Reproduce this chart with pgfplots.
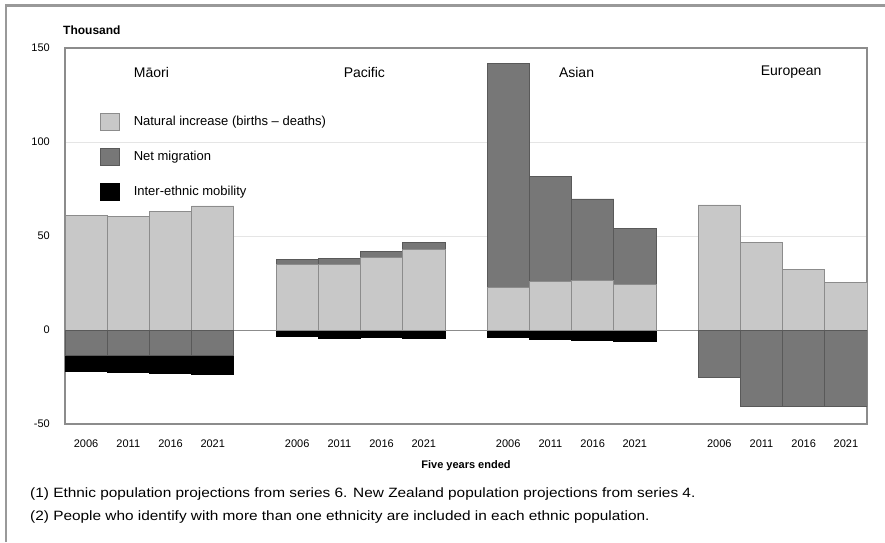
\documentclass[border=0pt]{standalone}
\usepackage{fontspec}
\setmainfont{Liberation Sans}
\usepackage{graphicx}
\usepackage{pgfplots}
\pgfplotsset{compat=1.18}
\usepackage{pgfplotstable}

\definecolor{natgrey}{HTML}{C8C8C8}
\definecolor{miggrey}{HTML}{777777}
\definecolor{framegrey}{HTML}{8C8C8C}

% thousand people, five years ended 2006/2011/2016/2021
\pgfplotstableread{
x    nat   mig    mob
0.5  61.0  -13.5  -8.5
1.5  60.5  -13.5  -9.0
2.5  63.0  -13.5  -9.5
3.5  66.0  -13.5  -10.0
}\maori
\pgfplotstableread{
x    nat   mig   mob
5.5  35.0  2.6   -3.2
6.5  35.0  3.0   -4.2
7.5  38.5  3.5   -4.1
8.5  43.0  3.4   -4.6
}\pacific
\pgfplotstableread{
x     nat   mig    mob
10.5  22.5  119.3  -4.0
11.5  26.0  55.5   -5.0
12.5  26.5  43.2   -5.7
13.5  24.0  30.2   -5.9
}\asian
\pgfplotstableread{
x     nat   mig
15.5  66.5  -25.0
16.5  46.6  -40.4
17.5  32.3  -40.4
18.5  25.5  -40.4
}\european

\pgfplotsset{
  frame/.style={at={(65pt,118pt)}, anchor=south west,
    scale only axis, width=802pt, height=376pt,
    xmin=0, xmax=19, ymin=-50, ymax=150, bar width=1},
  stackaxis/.style={frame, hide axis, ybar stacked},
  natstyle/.style={fill=natgrey, draw=black!45, line width=0.8pt, bar shift=0pt},
  migstyle/.style={fill=miggrey, draw=black!65, line width=0.8pt, bar shift=0pt},
  mobstyle/.style={fill=black, draw=black, line width=0.8pt, bar shift=0pt},
}

\begin{document}
\begin{tikzpicture}
\useasboundingbox (0,0) rectangle (885pt,542pt);
\draw[line width=2.5pt, color=black!40] (6pt,0pt) -- (6pt,536.5pt) -- (885pt,536.5pt);
\begin{axis}[
  frame,
  ytick={-50,0,50,100,150},
  xtick={0.5,1.5,2.5,3.5,5.5,6.5,7.5,8.5,10.5,11.5,12.5,13.5,15.5,16.5,17.5,18.5},
  xticklabels={2006,2011,2016,2021,2006,2011,2016,2021,2006,2011,2016,2021,2006,2011,2016,2021},
  major tick length=0pt,
  ymajorgrids, grid style={color=black!10, line width=0.8pt},
  extra y ticks={0}, extra y tick labels={},
  extra y tick style={grid style={color=black!45, line width=1pt}},
  axis line style={color=framegrey, line width=1.2pt},
  ybar,
  every axis plot post/.append style={
    legend image code/.code={\draw[##1] (0pt,-8.5pt) rectangle (19pt,8.5pt);}},
  tick label style={font=\fontsize{11}{13}\selectfont},
  /pgf/number format/assume math mode=true,
  xticklabel style={anchor=center, yshift=-20pt},
  yticklabel style={anchor=east, inner sep=0pt, xshift=-15pt},
  xlabel={Five years ended},
  xlabel style={font=\bfseries\fontsize{11}{13}\selectfont,
    at={(axis description cs:0.5,0)}, anchor=center, yshift=-42pt},
  legend style={at={(0.0436,0.827)}, anchor=north west, draw=none, fill=none,
    inner sep=0pt, outer sep=0pt, row sep=17pt,
    font=\fontsize{13}{14}\selectfont,
    nodes={inner sep=0pt, anchor=west},
    /tikz/every odd column/.append style={column sep=14pt}},
  legend cell align=left,
]
\addlegendimage{natstyle}
\addlegendentry{Natural increase (births -- deaths)}
\addlegendimage{migstyle}
\addlegendentry{Net migration}
\addlegendimage{mobstyle}
\addlegendentry{Inter-ethnic mobility}

% bars that start at zero
\addplot[natstyle, forget plot] table[x=x, y=nat] {\maori};
\addplot[natstyle, forget plot] table[x=x, y=nat] {\european};
\addplot[migstyle, forget plot] table[x=x, y=mig] {\european};
\addplot[mobstyle, forget plot] table[x=x, y=mob] {\pacific};
\addplot[mobstyle, forget plot] table[x=x, y=mob] {\asian};

\node[anchor=west, font=\fontsize{14}{16}\selectfont] at (axis cs:1.55,137) {Māori};
\node[anchor=west, font=\fontsize{14}{16}\selectfont] at (axis cs:6.52,137) {Pacific};
\node[anchor=west, font=\fontsize{14}{16}\selectfont] at (axis cs:11.62,137) {Asian};
\node[anchor=west, font=\fontsize{14}{16}\selectfont] at (axis cs:16.40,137) {European};
\end{axis}

% stacked parts, one overlay axis per group
\begin{axis}[stackaxis]
\addplot[migstyle] table[x=x, y=mig] {\maori};
\addplot[mobstyle] table[x=x, y=mob] {\maori};
\end{axis}
\begin{axis}[stackaxis]
\addplot[natstyle] table[x=x, y=nat] {\pacific};
\addplot[migstyle] table[x=x, y=mig] {\pacific};
\end{axis}
\begin{axis}[stackaxis]
\addplot[natstyle] table[x=x, y=nat] {\asian};
\addplot[migstyle] table[x=x, y=mig] {\asian};
\end{axis}

\node[anchor=west, inner sep=0pt, font=\bfseries\fontsize{12}{14}\selectfont] at (63pt,512pt) {Thousand};
\node[anchor=west, inner sep=0pt, font=\fontsize{13.5}{15}\selectfont] at (30pt,48pt)
  {\scalebox{1.14}[1]{(1) Ethnic population projections from series 6. New Zealand population projections from series 4.}};
\node[anchor=west, inner sep=0pt, font=\fontsize{13.5}{15}\selectfont] at (30pt,25pt)
  {\scalebox{1.14}[1]{(2) People who identify with more than one ethnicity are included in each ethnic population.}};
\end{tikzpicture}
\end{document}
